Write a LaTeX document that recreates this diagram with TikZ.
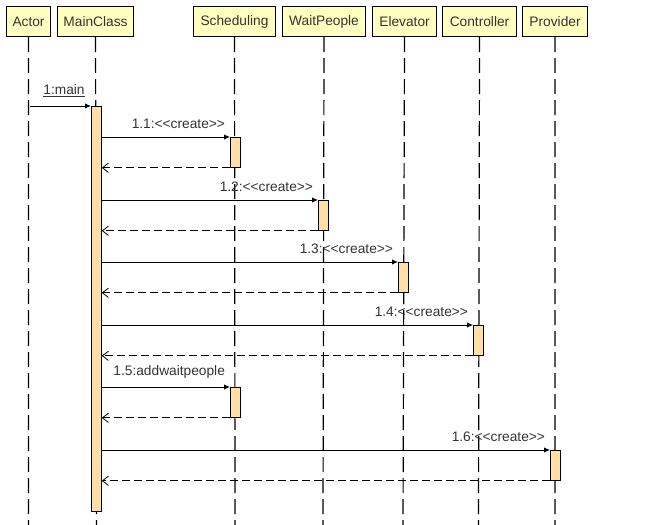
\documentclass[tikz,border=0pt]{standalone}
\usepackage{fontspec}
\setmainfont{Liberation Sans}
\usetikzlibrary{arrows.meta}
\definecolor{hdrfill}{HTML}{FFFFC0}
\definecolor{actfill}{HTML}{FFDFA6}
\definecolor{txt}{HTML}{333333}
\newcommand\dlt{<\kern0pt<}
\newcommand\dgt{>\kern0pt>}
\begin{document}
\begin{tikzpicture}[x=0.75pt,y=-0.75pt,
  every node/.style={font=\fontsize{10.3}{12}\selectfont,text=txt},
  hdr/.style={draw=black,fill=hdrfill,line width=0.8pt,minimum height=22.5pt,inner sep=1pt,anchor=north west},
  life/.style={line width=0.9pt,dash pattern=on 11.25pt off 4.5pt},
  act/.style={draw=black,fill=actfill,line width=0.6pt,inner sep=0pt,minimum width=7.5pt,anchor=north west},
  call/.style={line width=0.6pt,-{Latex[length=4.5pt,width=4pt]}},
  ret/.style={line width=0.6pt,dash pattern=on 6pt off 3pt,-{Straight Barb[length=4.5pt,width=7pt]}},
  lbl/.style={anchor=south east,inner sep=1.5pt}]
\useasboundingbox (0,0) rectangle (658,525);
% headers
\node[hdr,minimum width=33pt] (actor) at (6,6) {Actor};
\node[hdr,minimum width=57pt] (main) at (57,6) {MainClass};
\node[hdr,minimum width=61.5pt] (sched) at (193,6) {Scheduling};
\node[hdr,minimum width=62.25pt] (wait) at (282,6) {WaitPeople};
\node[hdr,minimum width=48pt] (elev) at (372,6) {Elevator};
\node[hdr,minimum width=55.5pt] (ctrl) at (442,6) {Controller};
\node[hdr,minimum width=48.75pt] (prov) at (522,6) {Provider};
% lifeline ends
\coordinate (actorE) at (28.5,525);
\coordinate (mainE) at (96.5,525);
\coordinate (schedE) at (235,525);
\coordinate (waitE) at (323,525);
\coordinate (elevE) at (403,525);
\coordinate (ctrlE) at (478.5,525);
\coordinate (provE) at (555,525);
\foreach \n in {actor,main,sched,wait,elev,ctrl,prov}
  \draw[life] (\n.south) -- (\n E);
% activations
\node[act,minimum height=303.75pt] (a0) at (91,106) {};
\node[act,minimum height=22.5pt] (a1) at (230,137) {};
\node[act,minimum height=22.5pt] (a2) at (318,200) {};
\node[act,minimum height=22.5pt] (a3) at (398,262) {};
\node[act,minimum height=22.5pt] (a4) at (473,325) {};
\node[act,minimum height=22.5pt] (a5) at (230,387) {};
\node[act,minimum height=22.5pt] (a6) at (550,450) {};
% message 1
\coordinate (s0) at (30,106);
\draw[call] (s0) -- node[lbl,pos=1,xshift=-3pt,yshift=5pt]{\underline{1:main}} (a0.north west);
% calls and returns
\foreach \a/\t in {a1/1.1:\dlt create\dgt,a2/1.2:\dlt create\dgt,a3/1.3:\dlt create\dgt,a4/1.4:\dlt create\dgt,a5/1.5:addwaitpeople,a6/1.6:\dlt create\dgt}{
  \draw[call] (a0.east |- \a.north west) -- node[lbl,pos=1,xshift=-2pt,yshift=4.5pt]{\t} (\a.north west);
  \draw[ret] (\a.south west) -- (a0.east |- \a.south west);
}
\end{tikzpicture}
\end{document}
